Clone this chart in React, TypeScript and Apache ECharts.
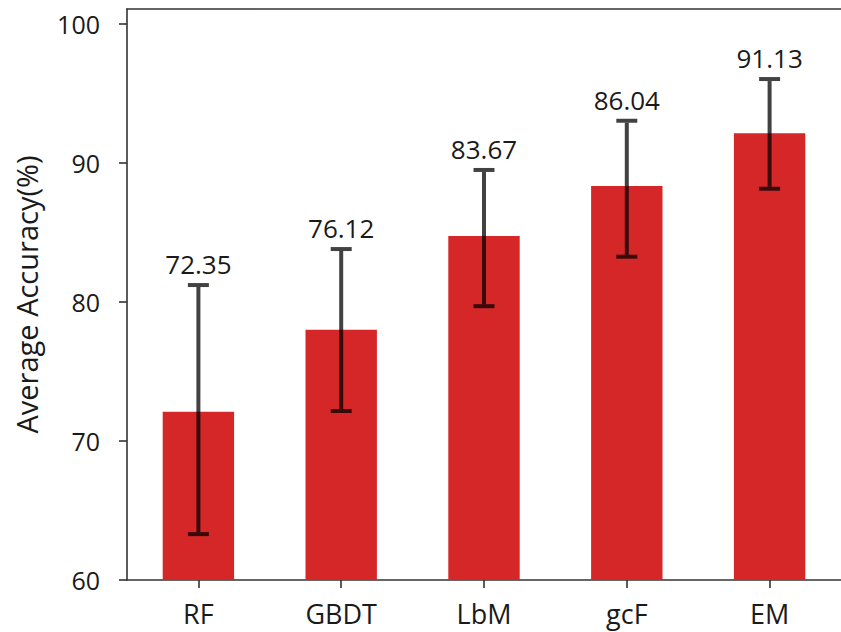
import React, { useEffect, useRef } from "react";
import * as echarts from "echarts";

const categories = ["RF", "GBDT", "LbM", "gcF", "EM"];
const barValues = [72.1, 78.0, 84.75, 88.35, 92.14];
const errLow = [63.3, 72.16, 79.7, 83.26, 88.15];
const errHigh = [81.22, 83.81, 89.5, 93.04, 96.04];
const valueLabels = ["72.35", "76.12", "83.67", "86.04", "91.13"];
const yTicks = [60, 70, 80, 90, 100];

const FONT = "'Open Sans', 'Noto Sans', sans-serif";

export default function App() {
  const ref = useRef<HTMLDivElement>(null);
  useEffect(() => {
    if (!ref.current) return;
    const chart = echarts.init(ref.current, undefined, { renderer: "svg" });
    const errColor = "rgba(0,0,0,0.74)";
    chart.setOption({
      animation: false,
      backgroundColor: "#ffffff",
      grid: { left: 127, right: -11, top: 9, bottom: 52 },
      xAxis: [
        {
          type: "category",
          data: categories,
          position: "bottom",
          axisLine: { show: true, lineStyle: { color: "#333", width: 1.6 } },
          axisTick: { show: true, alignWithLabel: true, length: 8, lineStyle: { color: "#333", width: 1.6 } },
          axisLabel: { fontSize: 27, color: "#1a1a1a", fontFamily: FONT, margin: 20 },
          splitLine: { show: false },
        },
        {
          type: "category",
          data: categories,
          position: "top",
          axisLine: { show: true, lineStyle: { color: "#333", width: 1.6 } },
          axisTick: { show: false },
          axisLabel: { show: false },
          splitLine: { show: false },
        },
      ],
      yAxis: {
        type: "value",
        min: 60,
        max: 101.08,
        interval: 10,
        name: "Average Accuracy(%)",
        nameLocation: "middle",
        nameGap: 86,
        nameTextStyle: { fontSize: 29, color: "#1a1a1a", fontFamily: FONT },
        axisLine: { show: true, lineStyle: { color: "#333", width: 1.6 } },
        axisTick: { show: true, length: 8, customValues: yTicks, lineStyle: { color: "#333", width: 1.6 } },
        axisLabel: { fontSize: 25, color: "#1a1a1a", fontFamily: FONT, margin: 27, customValues: yTicks },
        splitLine: { show: false },
      },
      series: [
        {
          type: "bar",
          data: barValues,
          barWidth: "50%",
          itemStyle: { color: "#d62728" },
          z: 2,
        },
        {
          type: "custom",
          z: 5,
          data: categories.map((_, i) => [i, errLow[i], errHigh[i]]),
          renderItem: (params: any, api: any) => {
            const i = api.value(0);
            const pLo = api.coord([i, api.value(1)]);
            const pHi = api.coord([i, api.value(2)]);
            const x = pLo[0];
            const cap = 10.5;
            const style = { stroke: errColor, lineWidth: 4 };
            return {
              type: "group",
              children: [
                { type: "line", shape: { x1: x, y1: pHi[1] + 2, x2: x, y2: pLo[1] - 2 }, style },
                { type: "line", shape: { x1: x - cap, y1: pHi[1], x2: x + cap, y2: pHi[1] }, style },
                { type: "line", shape: { x1: x - cap, y1: pLo[1], x2: x + cap, y2: pLo[1] }, style },
                {
                  type: "text",
                  x: x,
                  y: pHi[1] - 21,
                  style: {
                    text: valueLabels[params.dataIndex],
                    fill: "#1a1a1a",
                    fontSize: 26,
                    fontFamily: FONT,
                    align: "center",
                    verticalAlign: "middle",
                  },
                },
              ],
            };
          },
        },
      ],
    });
    return () => chart.dispose();
  }, []);
  return (
    <div
      ref={ref}
      style={{ position: "fixed", left: 0, top: 0, width: 841, height: 632, background: "#fff" }}
    />
  );
}
